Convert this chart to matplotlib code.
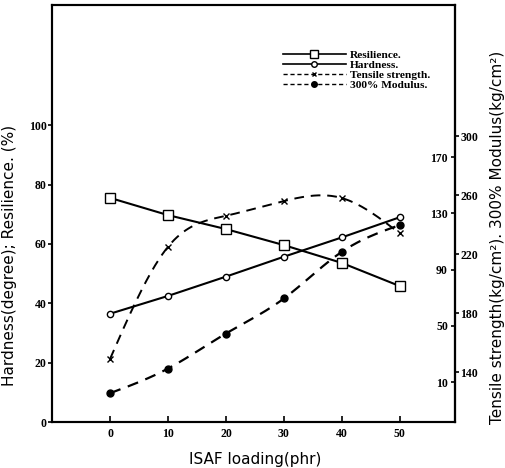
import numpy as np
import matplotlib
matplotlib.use('Agg')
import matplotlib.pyplot as plt
from matplotlib.lines import Line2D

# ISAF loading (phr)
loading = [0, 10, 20, 30, 40, 50]

# left axis (%, degree)
resilience = [75.5, 69.7, 65.0, 59.6, 53.6, 45.8]
hardness = [36.5, 42.5, 49.0, 55.7, 62.2, 69.0]

# right axis, outer scale (kg/cm2)
tensile = [149, 225, 246, 256, 258, 234]
# right axis, inner scale (kg/cm2)
modulus = [2.2, 19.7, 44.6, 69.5, 102.7, 121.7]

left_ticks = [0, 20, 40, 60, 80, 100]
tensile_ticks = [140, 180, 220, 260, 300]
modulus_ticks = [10, 50, 90, 130, 170]
x_ticks = [0, 10, 20, 30, 40, 50]

TICK_FONT = dict(family='Liberation Serif', weight='bold', size=8.5)
LABEL_FONT = dict(family='DejaVu Sans', size=11)


def smooth(x, y, n=200):
    """natural cubic spline through the points, only used to draw the curve"""
    x = np.asarray(x, float)
    y = np.asarray(y, float)
    h = np.diff(x)
    m = len(x)
    A = np.zeros((m, m))
    b = np.zeros(m)
    A[0, 0] = A[-1, -1] = 1
    for i in range(1, m - 1):
        A[i, i - 1] = h[i - 1]
        A[i, i] = 2 * (h[i - 1] + h[i])
        A[i, i + 1] = h[i]
        b[i] = 6 * ((y[i + 1] - y[i]) / h[i] - (y[i] - y[i - 1]) / h[i - 1])
    M = np.linalg.solve(A, b)
    xs = np.linspace(x[0], x[-1], n)
    k = np.clip(np.searchsorted(x, xs) - 1, 0, m - 2)
    t0 = x[k + 1] - xs
    t1 = xs - x[k]
    hk = h[k]
    ys = (M[k] * t0 ** 3 + M[k + 1] * t1 ** 3) / (6 * hk) \
        + (y[k] / hk - M[k] * hk / 6) * t0 + (y[k + 1] / hk - M[k + 1] * hk / 6) * t1
    return xs, ys


fig = plt.figure(figsize=(5.06, 4.68), dpi=100)
ax = fig.add_axes([0.103, 0.098, 0.796, 0.891])
ax2 = ax.twinx()
ax3 = ax.twinx()

dash = (0, (5, 3.5))

# resilience & hardness
ax.plot(loading, resilience, '-', color='black', lw=1.5, marker='s', ms=6.5,
        mfc='white', mec='black', mew=1.0, zorder=3)
ax.plot(loading, hardness, '-', color='black', lw=1.5, marker='o', ms=4.5,
        mfc='white', mec='black', mew=1.0, zorder=3)

# tensile strength (outer right scale)
xs, ys = smooth(loading, tensile)
ax2.plot(xs, ys, color='black', lw=1.4, linestyle=dash)
ax2.plot(loading, tensile, 'x', color='black', ms=4, mew=1.0)

# 300% modulus (inner right scale)
xs, ys = smooth(loading, modulus)
ax3.plot(xs, ys, color='black', lw=1.6, linestyle=dash)
ax3.plot(loading, modulus, 'o', color='black', ms=5)

ax.set_xlim(-10, 59.5)
ax.set_ylim(0, 140.4)
ax2.set_ylim(106.1, 388.8)
ax3.set_ylim(-18.4, 278)

# x axis
ax.set_xticks(x_ticks)
ax.set_xticklabels([str(v) for v in x_ticks], fontdict=TICK_FONT)
ax.tick_params(axis='x', direction='in', length=4, width=1.2, pad=4)
ax.set_yticks(left_ticks)
ax.set_yticklabels([str(v) for v in left_ticks], fontdict=TICK_FONT)
ax.tick_params(axis='y', direction='out', length=3, width=1.2, pad=1)

ax2.set_yticks(tensile_ticks)
ax2.set_yticklabels([str(v) for v in tensile_ticks], fontdict=TICK_FONT)
ax2.tick_params(axis='y', direction='out', length=3, width=1.2, pad=1)

# modulus labels sit just inside the right spine
ax3.spines['left'].set_position(('axes', 1.0))
ax3.yaxis.set_ticks_position('left')
ax3.yaxis.set_label_position('left')
for s in ['right', 'top', 'bottom']:
    ax3.spines[s].set_visible(False)
ax3.set_yticks(modulus_ticks)
ax3.set_yticklabels([str(v) for v in modulus_ticks], fontdict=TICK_FONT)
ax3.tick_params(axis='y', direction='out', length=3, width=1.2, pad=2)

for a in (ax, ax2, ax3):
    for s in a.spines.values():
        s.set_linewidth(1.5)

ax.set_xlabel('ISAF loading(phr)', **LABEL_FONT)
ax.xaxis.set_label_coords(0.504, -0.072)
ax.set_ylabel('Hardness(degree); Resilience. (%)', **LABEL_FONT)
ax.yaxis.set_label_coords(-0.087, 0.40)
ax2.set_ylabel('Tensile strength(kg/cm²). 300% Modulus(kg/cm²)', **LABEL_FONT)
ax2.yaxis.set_label_coords(1.087, 0.444)

handles = [
    Line2D([], [], color='black', lw=1.2, marker='s', ms=5.5, mfc='white', mec='black'),
    Line2D([], [], color='black', lw=1.2, marker='o', ms=4, mfc='white', mec='black'),
    Line2D([], [], color='black', lw=1.0, linestyle=(0, (3, 2)), marker='x', ms=3.5),
    Line2D([], [], color='black', lw=1.0, linestyle=(0, (3, 2)), marker='o', ms=4),
]
labels = ['Resilience.', 'Hardness.', 'Tensile strength.', '300% Modulus.']
ax.legend(handles, labels, loc='upper left', bbox_to_anchor=(0.558, 0.905),
          frameon=False, borderpad=0, handlelength=5.6, handletextpad=0.35,
          labelspacing=0.0, prop=dict(family='Liberation Serif', weight='bold', size=8.2))

fig.savefig('out.png', dpi=100)
